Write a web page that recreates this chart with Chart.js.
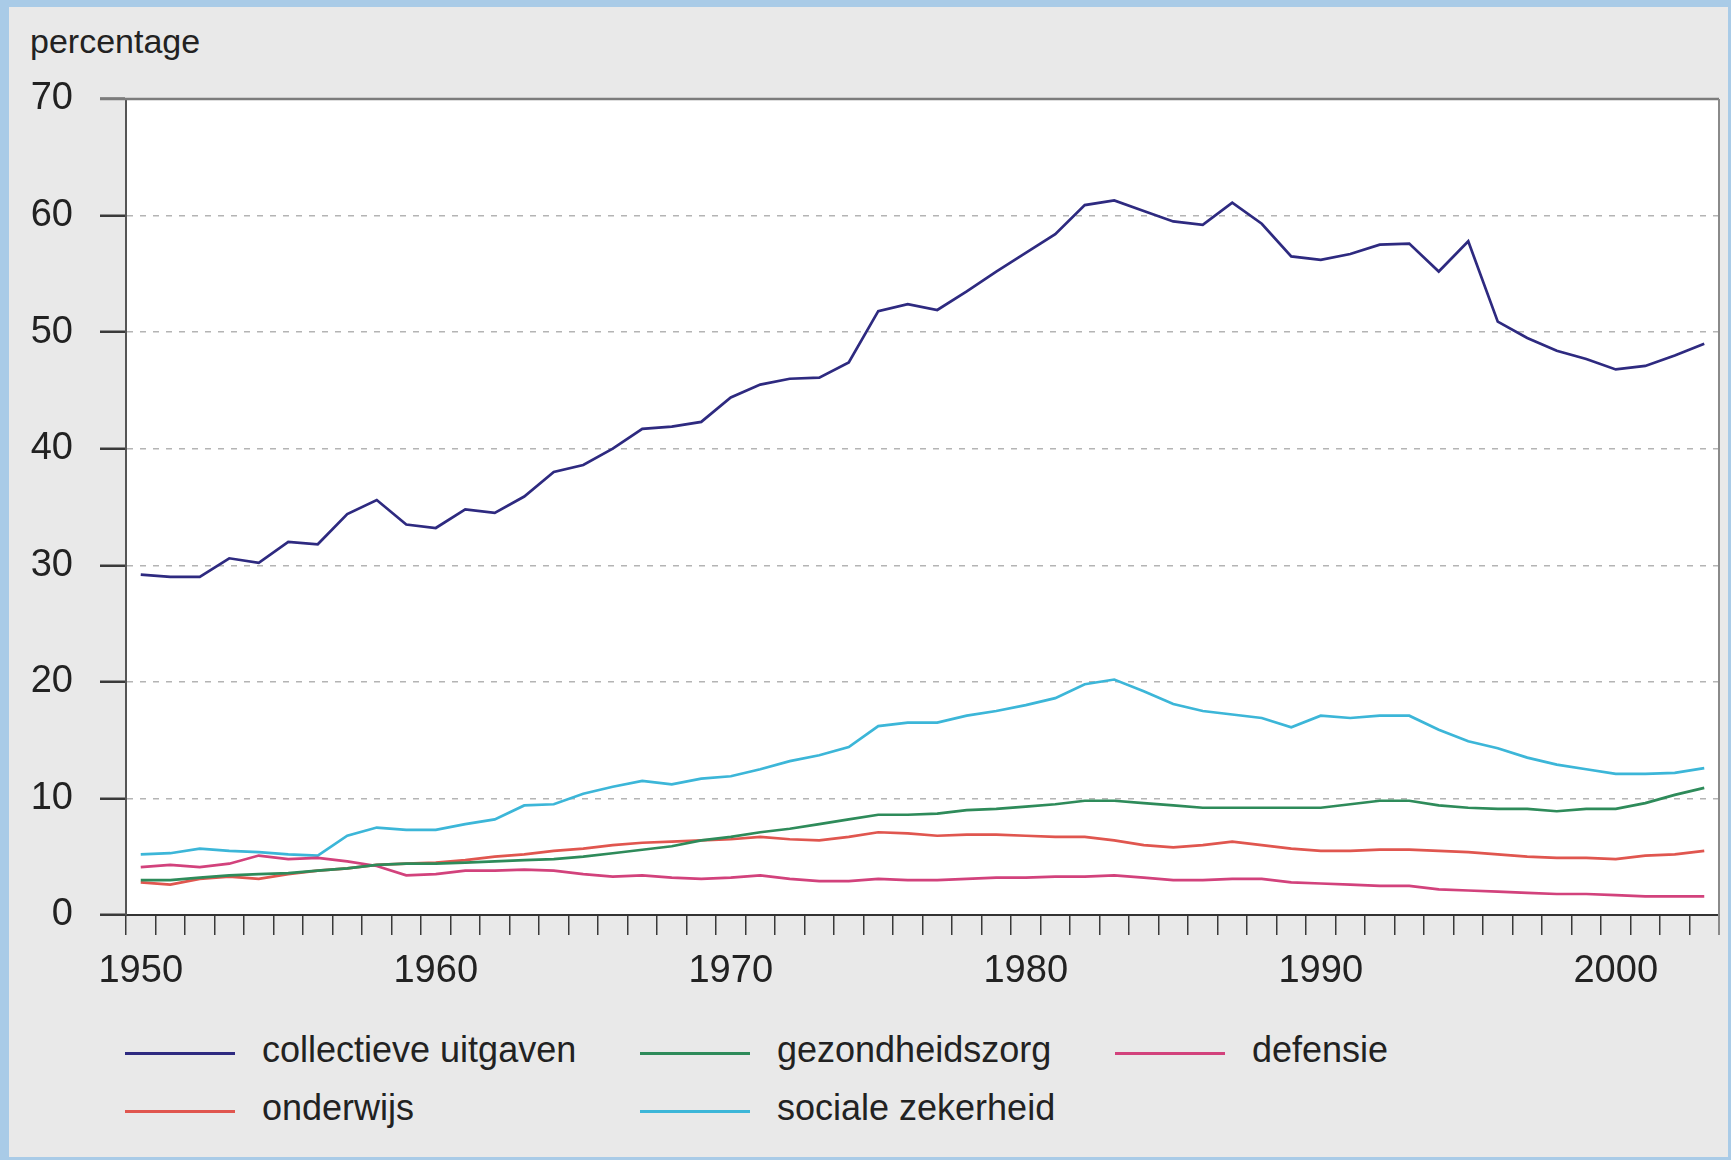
<!doctype html><html lang="nl"><head>
<meta charset="UTF-8"><title>Collectieve uitgaven</title>
<script src="https://cdn.jsdelivr.net/npm/chart.js@4"></script>
<style>
 body{margin:0;width:1731px;height:1160px;background:#a9cbe7;overflow:hidden;font-family:'Liberation Sans',Arial,sans-serif}
 #panel{position:absolute;left:9px;top:7px;width:1719px;height:1150px;background:#e9e9e9}
 #wrap{position:absolute;left:0;top:0;width:1719px;height:1000px}
 #ylab{position:absolute;left:21px;top:17px;font-size:34px;line-height:34px;color:#222}
 .lg-line{position:absolute;width:110px;height:3px}
 .lg-text{position:absolute;font-size:36px;line-height:36px;color:#222;white-space:nowrap}
</style></head><body>
<div id="panel">
  <div id="ylab">percentage</div>
  <div id="wrap"><canvas id="c"></canvas></div>
  <div id="legend"></div>
</div>
<script>
// ----- data (% of GDP) -----
const years = ['1950','1951','1952','1953','1954','1955','1956','1957','1958','1959',
  '1960','1961','1962','1963','1964','1965','1966','1967','1968','1969',
  '1970','1971','1972','1973','1974','1975','1976','1977','1978','1979',
  '1980','1981','1982','1983','1984','1985','1986','1987','1988','1989',
  '1990','1991','1992','1993','1994','1995','1996','1997','1998','1999',
  '2000','2001','2002','2003'];
const xTickLabels = ['1950','1960','1970','1980','1990','2000'];

const collectieve = [29.2,29.0,29.0,30.6,30.2,32.0,31.8,34.4,35.6,33.5,
  33.2,34.8,34.5,35.9,38.0,38.6,40.0,41.7,41.9,42.3,
  44.4,45.5,46.0,46.1,47.4,51.8,52.4,51.9,53.5,55.2,
  56.8,58.4,60.9,61.3,60.4,59.5,59.2,61.1,59.3,56.5,
  56.2,56.7,57.5,57.6,55.2,57.8,50.9,49.5,48.4,47.7,
  46.8,47.1,48.0,49.0];
const gezondheidszorg = [3.0,3.0,3.2,3.4,3.5,3.6,3.8,4.0,4.3,4.4,
  4.4,4.5,4.6,4.7,4.8,5.0,5.3,5.6,5.9,6.4,
  6.7,7.1,7.4,7.8,8.2,8.6,8.6,8.7,9.0,9.1,
  9.3,9.5,9.8,9.8,9.6,9.4,9.2,9.2,9.2,9.2,
  9.2,9.5,9.8,9.8,9.4,9.2,9.1,9.1,8.9,9.1,
  9.1,9.6,10.3,10.9];
const defensie = [4.1,4.3,4.1,4.4,5.1,4.8,4.9,4.6,4.2,3.4,
  3.5,3.8,3.8,3.9,3.8,3.5,3.3,3.4,3.2,3.1,
  3.2,3.4,3.1,2.9,2.9,3.1,3.0,3.0,3.1,3.2,
  3.2,3.3,3.3,3.4,3.2,3.0,3.0,3.1,3.1,2.8,
  2.7,2.6,2.5,2.5,2.2,2.1,2.0,1.9,1.8,1.8,
  1.7,1.6,1.6,1.6];
const onderwijs = [2.8,2.6,3.1,3.3,3.1,3.5,3.8,4.0,4.3,4.4,
  4.5,4.7,5.0,5.2,5.5,5.7,6.0,6.2,6.3,6.4,
  6.5,6.7,6.5,6.4,6.7,7.1,7.0,6.8,6.9,6.9,
  6.8,6.7,6.7,6.4,6.0,5.8,6.0,6.3,6.0,5.7,
  5.5,5.5,5.6,5.6,5.5,5.4,5.2,5.0,4.9,4.9,
  4.8,5.1,5.2,5.5];
const socialeZekerheid = [5.2,5.3,5.7,5.5,5.4,5.2,5.1,6.8,7.5,7.3,
  7.3,7.8,8.2,9.4,9.5,10.4,11.0,11.5,11.2,11.7,
  11.9,12.5,13.2,13.7,14.4,16.2,16.5,16.5,17.1,17.5,
  18.0,18.6,19.8,20.2,19.2,18.1,17.5,17.2,16.9,16.1,
  17.1,16.9,17.1,17.1,15.9,14.9,14.3,13.5,12.9,12.5,
  12.1,12.1,12.2,12.6];

const seriesNames  = ['collectieve uitgaven','gezondheidszorg','defensie','onderwijs','sociale zekerheid'];
const seriesValues = [collectieve, gezondheidszorg, defensie, onderwijs, socialeZekerheid];
const seriesColors = ['#2e2a80','#2e8b5a','#d2427c','#e0564f','#3cb6d8'];

const tickFont = {family:"'Liberation Sans',Arial,sans-serif", size:38};

// white plot area + grey frame on top/right
const framePlugin = {
  id:'frame',
  beforeDraw(chart){
    const {ctx, chartArea:a} = chart;
    ctx.save(); ctx.fillStyle='#fff';
    ctx.fillRect(a.left, a.top, a.right-a.left, a.bottom-a.top);
    ctx.restore();
  },
  afterDraw(chart){
    const {ctx, chartArea:a} = chart;
    ctx.save();
    ctx.strokeStyle='#7c7c7c'; ctx.lineWidth=2.5;
    ctx.beginPath(); ctx.moveTo(a.left-26, a.top); ctx.lineTo(a.right, a.top); ctx.stroke();
    ctx.strokeStyle='#8a8a8a'; ctx.lineWidth=2;
    ctx.beginPath(); ctx.moveTo(a.right, a.top); ctx.lineTo(a.right, a.bottom+20); ctx.stroke();
    ctx.restore();
  }
};

new Chart(document.getElementById('c'), {
  type:'line',
  data:{
    labels: years,
    datasets: seriesNames.map((n,i)=>({
      label:n, data:seriesValues[i], borderColor:seriesColors[i],
      borderWidth:2.7, pointRadius:0, tension:0, fill:false
    }))
  },
  options:{
    responsive:true, maintainAspectRatio:false, animation:false,
    layout:{padding:{top:92, right:9, left:0, bottom:0}},
    plugins:{legend:{display:false}, tooltip:{enabled:false}},
    scales:{
      x:{
        offset:true,
        grid:{offset:true, drawOnChartArea:false, tickLength:20, color:'#3a3a3a', lineWidth:1.5},
        border:{color:'#333', width:2},
        ticks:{autoSkip:false, maxRotation:0, padding:14, color:'#222', font:tickFont,
          callback:(v,i)=> xTickLabels.includes(years[i]) ? years[i] : ''},
        afterFit:s=>{ s.height = 92; }
      },
      y:{
        min:0, max:70,
        grid:{
          color:c=> (c.tick.value===0||c.tick.value===70) ? 'rgba(0,0,0,0)' : '#b4b4b4',
          lineWidth:1.5, tickLength:26, tickColor:'#3a3a3a', tickWidth:2.5
        },
        border:{color:'#555', width:2, dash:[6,7]},
        ticks:{stepSize:10, padding:27, color:'#222', font:tickFont},
        afterFit:s=>{ s.width = 117; }
      }
    }
  },
  plugins:[framePlugin]
});

// legend: 3 columns x 2 rows, built from the series list
const legCols = [125, 640, 1115];
const legRows = [1053, 1111];
const leg = document.getElementById('legend');
seriesNames.forEach((n,i)=>{
  const x = legCols[i%3]-9, y = legRows[Math.floor(i/3)]-7;
  const line = document.createElement('div');
  line.className='lg-line'; line.style.background=seriesColors[i];
  line.style.left=x+'px'; line.style.top=(y-1.5)+'px';
  const t = document.createElement('div');
  t.className='lg-text'; t.textContent=n;
  t.style.left=(x+137)+'px'; t.style.top=(y-21.5)+'px';
  leg.appendChild(line); leg.appendChild(t);
});
</script>
</body></html>
